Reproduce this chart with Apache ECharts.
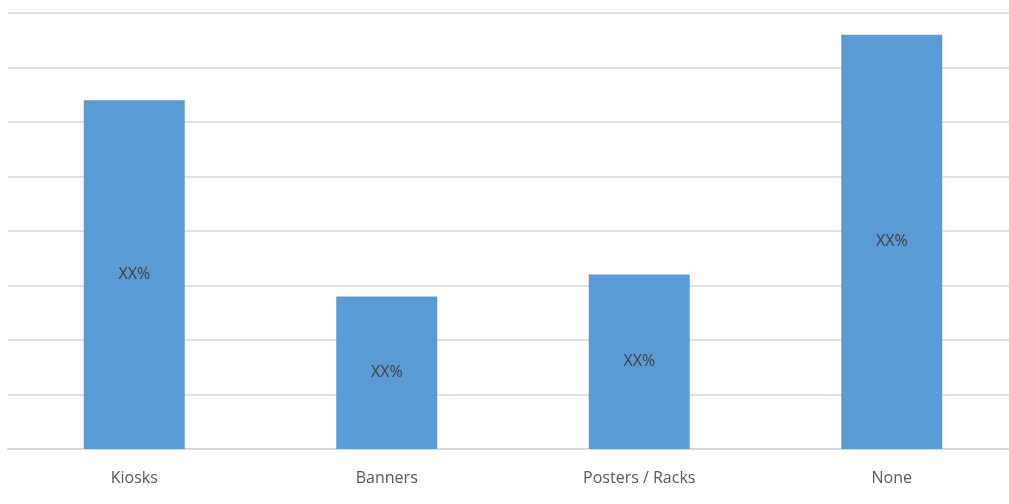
<!DOCTYPE html>
<html>
<head>
<meta charset="utf-8">
<script src="https://cdn.jsdelivr.net/npm/echarts@6/dist/echarts.min.js"></script>
<style>
  html, body { margin: 0; padding: 0; background: #ffffff; overflow: hidden; }
  #wrap { width: 1009px; height: 504px; overflow: hidden; }
  #chart { width: 1027px; height: 504px; }
</style>
</head>
<body>
<div id="wrap"><div id="chart"></div></div>
<script>
// Survey: in-store promotion types
const categories = ['Kiosks', 'Banners', 'Posters / Racks', 'None'];
const shares = [32, 14, 16, 38];
const valueLabel = 'XX%';

const chart = echarts.init(document.getElementById('chart'), null, { renderer: 'canvas' });

chart.setOption({
  animation: false,
  backgroundColor: '#ffffff',
  // the plot runs slightly past the visible right edge
  grid: { left: 8, top: 13, right: 9, bottom: 55, containLabel: false },
  xAxis: {
    type: 'category',
    data: categories,
    axisLine: { show: true, lineStyle: { color: '#d9d9d9', width: 2 } },
    axisTick: { show: false },
    axisLabel: {
      color: '#595959',
      fontFamily: 'Open Sans',
      fontSize: 16,
      margin: 21
    }
  },
  yAxis: {
    type: 'value',
    min: 0,
    max: 40,
    interval: 5,
    axisLine: { show: false },
    axisTick: { show: false },
    axisLabel: { show: false },
    splitLine: { lineStyle: { color: '#e3e3e3', width: 2 } }
  },
  series: [{
    type: 'bar',
    data: shares,
    barWidth: '40%',
    itemStyle: { color: '#5b9bd5' },
    label: {
      show: true,
      position: 'inside',
      formatter: () => valueLabel,
      color: '#404040',
      fontFamily: 'Open Sans',
      fontSize: 16
    }
  }]
});
</script>
</body>
</html>
